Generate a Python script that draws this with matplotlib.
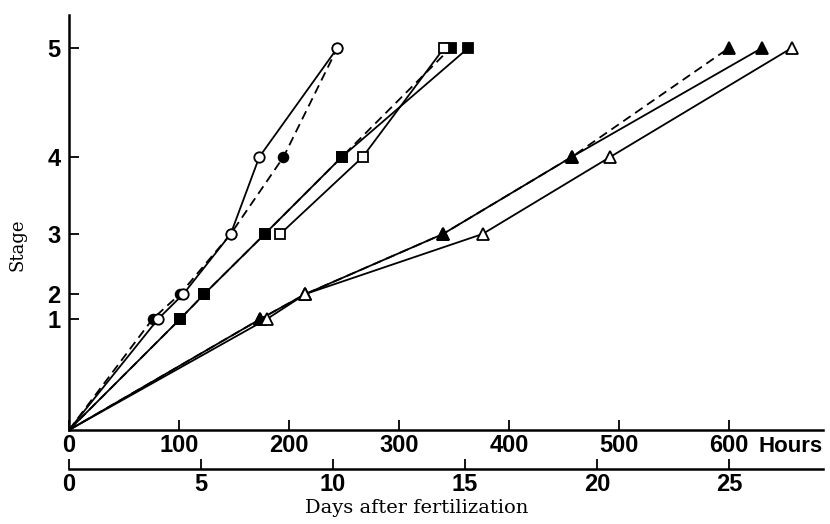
import numpy as np
import matplotlib
matplotlib.use('Agg')
import matplotlib.pyplot as plt

# ---- data (hours after fertilization at which each stage is reached) ----
stages = [0, 1, 2, 3, 4, 5]
circ_open_h = [0, 81, 104, 147, 173, 244]
circ_fill_h = [0, 76, 101, 147, 195, 244]
sq_fill_solid_h = [0, 101, 123, 178, 248, 363]
sq_fill_dash_h = [0, 101, 123, 178, 248, 347]
sq_open_stages = [3, 4, 5]
sq_open_h = [192, 267, 341]
tri_fill_solid_h = [0, 174, 215, 340, 457, 630]
tri_fill_dash_h = [0, 174, 215, 340, 457, 600]
tri_open_h = [0, 180, 215, 376, 492, 657]

hour_ticks = [0, 100, 200, 300, 400, 500, 600]
day_ticks = [0, 5, 10, 15, 20, 25]
stage_ticks = [1, 2, 3, 4, 5]

# non-linear stage axis (positions of the stage ticks along the axis)
knot_s = np.array([0, 1, 2, 3, 4, 5, 6], dtype=float)
knot_p = np.array([0, 111, 136, 196, 273, 382, 491], dtype=float)


def fwd(s):
    return np.interp(s, knot_s, knot_p)


def inv(p):
    return np.interp(p, knot_p, knot_s)


W, H = 830, 524
fig = plt.figure(figsize=(W / 100, H / 100), dpi=100)
ax = fig.add_axes([69 / W, (H - 430) / H, (823 - 69) / W, 415 / H])
ax.set_yscale('function', functions=(fwd, inv))

lw = 1.3
ms = 7
mk = dict(markevery=slice(1, None), markeredgewidth=1.3, markeredgecolor='black')

# circles
ax.plot(circ_fill_h, stages, '--', color='black', lw=lw, dashes=(5, 3),
        marker='o', markersize=ms, markerfacecolor='black', **mk, zorder=3)
ax.plot(circ_open_h, stages, '-', color='black', lw=lw,
        marker='o', markersize=ms + 0.5, markerfacecolor='white', **mk, zorder=4)
# squares
ax.plot(sq_fill_dash_h, stages, '--', color='black', lw=lw, dashes=(5, 3),
        marker='s', markersize=ms - 0.5, markerfacecolor='black', **mk, zorder=3)
ax.plot(sq_fill_solid_h, stages, '-', color='black', lw=lw,
        marker='s', markersize=ms - 0.5, markerfacecolor='black', **mk, zorder=3)
ax.plot(sq_open_h, sq_open_stages, '-', color='black', lw=lw,
        marker='s', markersize=ms - 0.5, markerfacecolor='white',
        markeredgewidth=1.3, markeredgecolor='black', zorder=4)
# triangles
ax.plot(tri_fill_dash_h, stages, '--', color='black', lw=lw, dashes=(5, 3),
        marker='^', markersize=ms + 1, markerfacecolor='black', **mk, zorder=3)
ax.plot(tri_fill_solid_h, stages, '-', color='black', lw=lw,
        marker='^', markersize=ms + 1, markerfacecolor='black', **mk, zorder=3)
ax.plot(tri_open_h, stages, '-', color='black', lw=lw,
        marker='^', markersize=ms + 1, markerfacecolor='white', **mk, zorder=4)

ax.set_xlim(0, 685.5)
ax.set_ylim(0, inv(415))

for s in ['top', 'right']:
    ax.spines[s].set_visible(False)
for s in ['left', 'bottom']:
    ax.spines[s].set_linewidth(1.8)

tick_font = dict(family='Liberation Sans', weight='bold', size=17)
ax.set_xticks(hour_ticks)
ax.set_xticklabels([str(t) for t in hour_ticks], fontdict=tick_font)
ax.set_yticks(stage_ticks)
ax.set_yticklabels([str(t) for t in stage_ticks], fontdict=tick_font)
ax.tick_params(axis='both', direction='in', length=7, width=1.3, pad=3)
ax.tick_params(axis='y', pad=6)
ax.yaxis.set_minor_locator(matplotlib.ticker.NullLocator())
ax.xaxis.set_minor_locator(matplotlib.ticker.NullLocator())

# days axis
sec = ax.secondary_xaxis(-39 / 415, functions=(lambda h: np.asarray(h) / 24.0,
                                                 lambda d: np.asarray(d) * 24.0))
sec.spines['bottom'].set_linewidth(1.8)
sec.set_xticks(day_ticks)
sec.set_xticklabels([str(t) for t in day_ticks], fontdict=tick_font)
sec.tick_params(axis='x', direction='in', length=7, width=1.3, pad=3)
sec.xaxis.set_minor_locator(matplotlib.ticker.NullLocator())

fig.text(823 / W, 1 - 447 / H, 'Hours', ha='right', va='center',
         family='Liberation Sans', weight='bold', size=16)
fig.text(417 / W, 1 - 508 / H, 'Days after fertilization', ha='center', va='center',
         family='DejaVu Serif', size=14)
fig.text(17 / W, 1 - 245 / H, 'Stage', ha='center', va='center', rotation=90,
         family='DejaVu Serif', size=13)

fig.savefig('out.png', dpi=100)
